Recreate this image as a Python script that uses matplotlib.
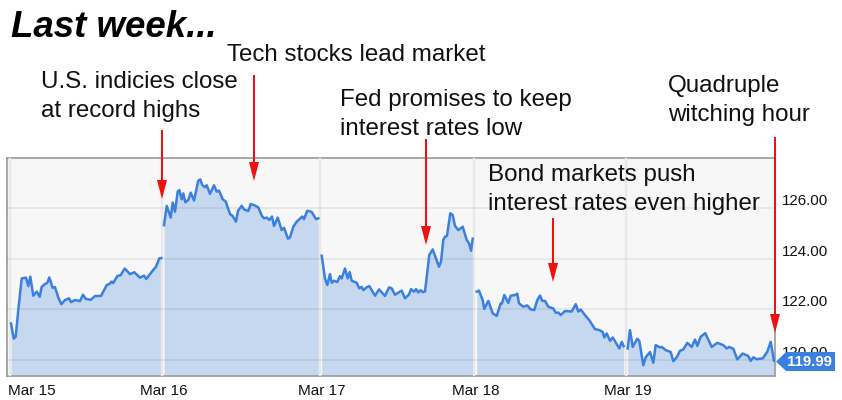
import matplotlib
matplotlib.use("Agg")
import matplotlib.pyplot as plt
from matplotlib.patches import FancyArrow, Polygon
from matplotlib.transforms import ScaledTranslation

plt.rcParams['font.family'] = ['Liberation Sans', 'DejaVu Sans']

W, H = 842, 400
LINE = '#3b80e0'
FILL = '#c6d8f0'

tick_pos = [10, 162, 320, 474, 626]
tick_labels = ['Mar 15', 'Mar 16', 'Mar 17', 'Mar 18', 'Mar 19']
y_ticks = [120, 122, 124, 126]
last_price = 119.99

x1 = [11,13.7,15.7,18.3,21.7,26,28.3,30.3,33.3,36.7,39.7,41.7,45,47.3,49.3,52.7,55,58.3,61.3,65,69,71,75,80,83,85.7,90.7,95,101,106.7,109.3,111.7,113.3,117.3,120.7,124.7,130,134.3,140,144,146.3,151.7,156,159.3,161.3]
y1 = [121.45,120.86,120.93,121.98,123.22,123.25,122.92,123.29,122.54,122.70,122.50,122.89,123.00,123.05,123.26,122.85,122.88,122.47,122.21,122.37,122.44,122.29,122.37,122.33,122.58,122.42,122.38,122.53,122.53,122.96,123.00,123.10,123.04,123.31,123.35,123.61,123.39,123.46,123.25,123.33,123.20,123.48,123.68,124.01,124.02]

x2 = [164,166.7,170.7,172.7,175,177.7,179.3,181.7,183.3,185.3,188.3,190.7,194,198.3,200.3,202.3,204.7,206.7,210,214,216.7,219,222.7,225.7,230,232.7,236,238,241.7,244,248.3,250.7,254,258.3,262,264,266.7,269.3,272,274,277.7,281.7,284,288,290,293.3,296.7,302.3,304,307.3,311.7,316,318.3]
y2 = [125.31,126.07,125.61,126.20,125.84,126.63,126.69,126.33,126.56,126.21,126.30,126.59,126.28,127.06,127.11,126.89,126.80,126.88,126.54,126.88,126.63,126.67,126.33,126.24,125.75,125.67,125.45,125.88,126.07,125.93,125.87,126.14,126.10,126.01,125.67,125.58,125.61,125.52,125.65,125.28,125.61,125.12,125.21,124.78,124.83,125.25,125.45,125.65,125.55,125.88,125.83,125.55,125.58]

x3 = [321.7,325,327.3,330,331.7,334,337.3,340,341.7,345,347.7,349.7,351.7,356.7,359.3,361.7,363.3,366.7,369.3,375,379,385,389,391.7,395,401.7,405,409,411,414,416,418.3,420.7,422.7,425,429.3,432.7,439,441,443.3,445,447,450.3,452.7,455,458.3,462.7,466.7,469,471,472.7]
y3 = [124.11,123.22,122.96,123.39,123.05,123.13,123.08,123.31,123.22,123.61,123.22,123.47,123.13,123.05,122.83,122.89,122.76,122.87,122.92,122.54,122.79,122.53,122.87,122.83,122.58,122.74,122.44,122.59,122.80,122.70,122.80,122.67,122.76,122.68,122.71,124.14,124.36,123.68,123.88,124.73,124.86,124.89,125.78,125.71,125.28,125.12,125.25,124.73,124.60,124.31,124.78]

x4 = [476.7,479,482.7,484.3,488.3,492.7,496.7,500.7,502,504.3,508.3,510.7,515,517.3,519,523.3,527.3,530.7,534.3,537.3,540,542.3,545,548.3,553.3,555.7,558.3,560.7,565,571.7,575.7,578.3,580.7,585,589.3,595,599.3,602.7,604.3,606.7,610,612.7,616,619.3,621.7,623.7]
y4 = [122.70,122.74,122.37,122.02,122.34,121.85,121.75,122.24,122.24,122.57,122.26,122.54,122.57,122.62,122.24,122.11,122.16,122.00,121.98,122.37,122.55,122.34,122.34,122.11,122.04,121.87,121.88,121.78,121.94,121.92,122.21,121.92,122.00,121.78,121.58,121.23,121.19,121.12,120.90,121.06,120.77,120.90,120.69,120.47,120.73,120.56]

x5 = [627.7,630,632.7,637.3,639.3,643.3,645.7,650,653.3,655.7,660,661.7,666,670.7,673.3,676.7,680,683.3,687.3,691.7,695,697.3,700.7,705.3,711.7,717.3,723.3,726.7,729,733.3,737.3,742.7,748.3,750.7,753.3,756.7,762.7,767.3,770.7,774]
y5 = [120.47,121.19,120.53,120.85,120.77,119.81,120.12,120.33,119.91,120.60,120.51,120.53,120.40,120.33,119.97,120.12,120.38,120.43,120.69,120.53,120.82,120.57,120.93,121.07,120.53,120.69,120.60,120.47,120.53,120.46,120.04,120.27,120.17,119.98,120.12,120.05,120.08,120.34,120.73,119.99]

sessions = [(x1, y1), (x2, y2), (x3, y3), (x4, y4), (x5, y5)]

notes = [
    ('U.S. indicies close', 41, 88),
    ('at record highs', 41, 117),
    ('Tech stocks lead market', 227, 61),
    ('Fed promises to keep', 340, 106),
    ('interest rates low', 340, 135),
    ('Bond markets push', 488, 181),
    ('interest rates even higher', 488, 210),
    ('Quadruple', 668, 92),
    ('witching hour', 668, 121),
]
arrows = [(162, 130, 199), (254, 75, 181), (426, 139, 245), (553, 218, 282), (775, 137, 333)]

fig = plt.figure(figsize=(W / 100, H / 100), dpi=100, facecolor='white')
L, R, T, B = 7, 775, 158, 375.7
ax = fig.add_axes([L / W, 1 - B / H, (R - L) / W, (B - T) / H])
ax.set_facecolor('#f7f7f7')
ax.set_xlim(L, R)
ax.set_ylim(119.40, 127.95)

for x, y in sessions:
    ax.fill_between(x, y, 119.40, color=FILL, lw=0, zorder=1)
    ax.plot(x, y, color=LINE, lw=1.8, zorder=4, solid_joinstyle='round')

ax.set_yticks(y_ticks)
ax.set_yticklabels(['%.2f' % v for v in y_ticks], fontsize=10.8, color='#111111')
ax.yaxis.tick_right()
for lab in ax.get_yticklabels():
    lab.set_va('bottom')
ax.set_xticks(tick_pos)
ax.set_xticklabels(tick_labels, fontsize=11, color='#111111')
ax.tick_params(length=0, axis='both')
ax.tick_params(axis='x', pad=6)
ax.tick_params(axis='y', pad=5)
for i, lab in enumerate(ax.get_xticklabels()):
    if i == 0:
        lab.set_ha('left')
        dx = -2 / 100
    else:
        dx = 1.5 / 100
    lab.set_transform(lab.get_transform() + ScaledTranslation(dx, 0, fig.dpi_scale_trans))
ax.grid(axis='y', color='black', alpha=0.07, lw=1.2, zorder=2)
ax.grid(axis='x', color='#e8e8e8', lw=1.6, zorder=0.5)
ax.set_axisbelow(False)
for s in ax.spines.values():
    s.set_color('#9a9a9a')
    s.set_linewidth(1.2)


def fx(px):
    return px / W


def fy(py):
    return 1 - py / H


fig.add_artist(Polygon([(fx(776), fy(361.5)), (fx(786), fy(352)), (fx(835), fy(352)),
                        (fx(835), fy(371)), (fx(786), fy(371))], closed=True, fc=LINE, ec='none',
                       transform=fig.transFigure, zorder=8))
fig.text(fx(787), fy(361.5), '%.2f' % last_price, color='white', fontsize=10.8, fontweight='bold',
         va='center', ha='left', zorder=9)

fig.text(fx(11), fy(37), 'Last week...', fontsize=26.4, fontweight='bold', style='italic',
         va='baseline', ha='left', color='black')
for text, x, y in notes:
    fig.text(fx(x), fy(y), text, fontsize=17.4, color='#111111', ha='left', va='baseline', zorder=10)
for x, y0, y1_ in arrows:
    fig.add_artist(FancyArrow(fx(x), fy(y0), 0, -(y1_ - y0) / H, width=2 / W, head_width=10 / W,
                              head_length=19 / H, length_includes_head=True, color='#f01010', lw=0,
                              transform=fig.transFigure, zorder=11))

fig.savefig('out.png', dpi=100)
